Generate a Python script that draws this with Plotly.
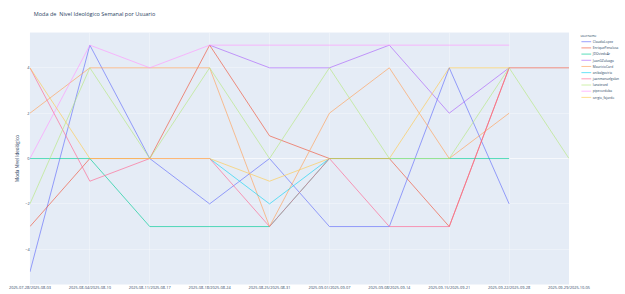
import plotly.graph_objects as go

weeks = ["2025-07-28/2025-08-03", "2025-08-04/2025-08-10", "2025-08-11/2025-08-17",
         "2025-08-18/2025-08-24", "2025-08-25/2025-08-31", "2025-09-01/2025-09-07",
         "2025-09-08/2025-09-14", "2025-09-15/2025-09-21", "2025-09-22/2025-09-28",
         "2025-09-29/2025-10-05"]

users = ["ClaudiaLopez", "EnriquePenalosa", "JDOviedoAr", "JuanGZuluaga", "MauricioCard",
         "anibalgaviria", "juanmanuelgalan", "lunatesed", "pipecordoba", "sergio_fajardo"]

claudia = [-5, 5, 0, -2, 0, -3, -3, 4, -2, None]
enrique = [-3, 0, 0, 5, 1, 0, 0, -3, 4, 4]
jdoviedo = [0, 0, -3, -3, -3, 0, 0, 0, 0, None]
juang = [None, None, None, 5, 4, 4, 5, 2, 4, None]
mauricio = [2, 4, 4, 4, -3, 2, 4, 0, 2, None]
anibal = [None, None, None, 0, -2, 0, None, None, None, None]
juanmanuel = [4, -1, 0, 0, -3, 0, -3, -3, 4, None]
luna = [-2, 4, 0, 4, 0, 4, 0, 0, 4, 0]
pipe = [0, 5, 4, 5, 5, 5, 5, 5, 5, None]
sergio = [4, 0, 0, 0, -1, 0, 0, 4, 4, None]

series = [claudia, enrique, jdoviedo, juang, mauricio, anibal, juanmanuel, luna, pipe, sergio]
colors = ["#636EFA", "#EF553B", "#00CC96", "#AB63FA", "#FFA15A",
          "#19D3F3", "#FF6692", "#B6E880", "#FF97FF", "#FECB52"]

W, H = 1920, 903
S = 625 / W

fig = go.Figure()
for name, vals, col in zip(users, series, colors):
    xs = [w for w, v in zip(weeks, vals) if v is not None]
    ys = [v for v in vals if v is not None]
    fig.add_trace(go.Scatter(x=xs, y=ys, mode="lines", name=name,
                             line=dict(color=col, width=2)))

fig.update_layout(
    template="plotly",
    width=W, height=H,
    margin=dict(l=92, r=169, t=100, b=24),
    title=dict(text="Moda de  Nivel Ideológico Semanal por Usuario", x=0.054, xanchor="left",
               font=dict(size=17)),
    legend=dict(title=dict(text="username", font=dict(size=10.5)), font=dict(size=10)),
    xaxis=dict(type="category", categoryorder="array", categoryarray=weeks,
               tickfont=dict(size=12)),
    yaxis=dict(title=dict(text="Moda Nivel Ideológico", font=dict(size=14)),
               tickfont=dict(size=12)),
)

post = """
var gd = document.getElementById('{plot_id}');
document.documentElement.style.overflow = 'hidden';
document.body.style.margin = '0';
document.body.style.overflow = 'hidden';
gd.style.transformOrigin = '0 0';
gd.style.transform = 'scale(%s)';
""" % S

fig.write_html("out.html", post_script=post, config={"displayModeBar": False})
